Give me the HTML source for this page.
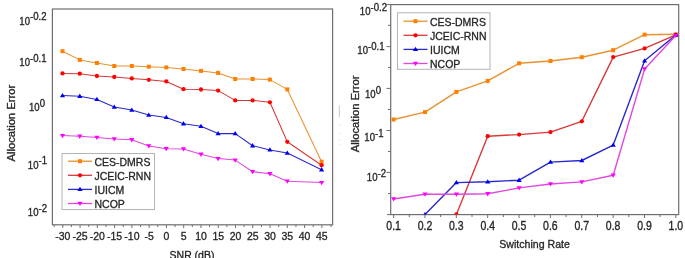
<!DOCTYPE html>
<html><head><meta charset="utf-8"><style>
html,body{margin:0;padding:0;background:#fff;}
body{width:685px;height:258px;overflow:hidden;}
svg{display:block;will-change:transform;}
text{font-family:"Liberation Sans",sans-serif;fill:#262626;stroke:#262626;stroke-width:0.3px;}
.t{font-size:10.5px;}
.lg{font-size:10.5px;}
.xt{font-size:10.6px;}
.yl{font-size:9.6px;}
.sp{font-size:9.6px;}
.al{font-size:10.5px;}
</style></head><body>
<svg width="685" height="258" viewBox="0 0 685 258">
<rect x="52.4" y="9" width="280.2" height="215.8" fill="none" stroke="#6e6e6e" stroke-width="1.2"/>
<line x1="62.80" y1="225" x2="62.80" y2="228" stroke="#6e6e6e" stroke-width="1"/>
<line x1="54.16" y1="225" x2="54.16" y2="227" stroke="#6e6e6e" stroke-width="1"/>
<line x1="80.07" y1="225" x2="80.07" y2="228" stroke="#6e6e6e" stroke-width="1"/>
<line x1="71.43" y1="225" x2="71.43" y2="227" stroke="#6e6e6e" stroke-width="1"/>
<line x1="97.34" y1="225" x2="97.34" y2="228" stroke="#6e6e6e" stroke-width="1"/>
<line x1="88.70" y1="225" x2="88.70" y2="227" stroke="#6e6e6e" stroke-width="1"/>
<line x1="114.61" y1="225" x2="114.61" y2="228" stroke="#6e6e6e" stroke-width="1"/>
<line x1="105.97" y1="225" x2="105.97" y2="227" stroke="#6e6e6e" stroke-width="1"/>
<line x1="131.88" y1="225" x2="131.88" y2="228" stroke="#6e6e6e" stroke-width="1"/>
<line x1="123.24" y1="225" x2="123.24" y2="227" stroke="#6e6e6e" stroke-width="1"/>
<line x1="149.15" y1="225" x2="149.15" y2="228" stroke="#6e6e6e" stroke-width="1"/>
<line x1="140.51" y1="225" x2="140.51" y2="227" stroke="#6e6e6e" stroke-width="1"/>
<line x1="166.42" y1="225" x2="166.42" y2="228" stroke="#6e6e6e" stroke-width="1"/>
<line x1="157.79" y1="225" x2="157.79" y2="227" stroke="#6e6e6e" stroke-width="1"/>
<line x1="183.69" y1="225" x2="183.69" y2="228" stroke="#6e6e6e" stroke-width="1"/>
<line x1="175.06" y1="225" x2="175.06" y2="227" stroke="#6e6e6e" stroke-width="1"/>
<line x1="200.96" y1="225" x2="200.96" y2="228" stroke="#6e6e6e" stroke-width="1"/>
<line x1="192.32" y1="225" x2="192.32" y2="227" stroke="#6e6e6e" stroke-width="1"/>
<line x1="218.23" y1="225" x2="218.23" y2="228" stroke="#6e6e6e" stroke-width="1"/>
<line x1="209.60" y1="225" x2="209.60" y2="227" stroke="#6e6e6e" stroke-width="1"/>
<line x1="235.50" y1="225" x2="235.50" y2="228" stroke="#6e6e6e" stroke-width="1"/>
<line x1="226.87" y1="225" x2="226.87" y2="227" stroke="#6e6e6e" stroke-width="1"/>
<line x1="252.77" y1="225" x2="252.77" y2="228" stroke="#6e6e6e" stroke-width="1"/>
<line x1="244.13" y1="225" x2="244.13" y2="227" stroke="#6e6e6e" stroke-width="1"/>
<line x1="270.04" y1="225" x2="270.04" y2="228" stroke="#6e6e6e" stroke-width="1"/>
<line x1="261.41" y1="225" x2="261.41" y2="227" stroke="#6e6e6e" stroke-width="1"/>
<line x1="287.31" y1="225" x2="287.31" y2="228" stroke="#6e6e6e" stroke-width="1"/>
<line x1="278.68" y1="225" x2="278.68" y2="227" stroke="#6e6e6e" stroke-width="1"/>
<line x1="304.58" y1="225" x2="304.58" y2="228" stroke="#6e6e6e" stroke-width="1"/>
<line x1="295.94" y1="225" x2="295.94" y2="227" stroke="#6e6e6e" stroke-width="1"/>
<line x1="321.85" y1="225" x2="321.85" y2="228" stroke="#6e6e6e" stroke-width="1"/>
<line x1="313.22" y1="225" x2="313.22" y2="227" stroke="#6e6e6e" stroke-width="1"/>
<line x1="331" y1="225" x2="331" y2="227" stroke="#6e6e6e" stroke-width="1"/>
<text transform="translate(62.80,240.00) scale(1,1.06)" class="t" text-anchor="middle">-30</text>
<text transform="translate(80.07,240.00) scale(1,1.06)" class="t" text-anchor="middle">-25</text>
<text transform="translate(97.34,240.00) scale(1,1.06)" class="t" text-anchor="middle">-20</text>
<text transform="translate(114.61,240.00) scale(1,1.06)" class="t" text-anchor="middle">-15</text>
<text transform="translate(131.88,240.00) scale(1,1.06)" class="t" text-anchor="middle">-10</text>
<text transform="translate(149.15,240.00) scale(1,1.06)" class="t" text-anchor="middle">-5</text>
<text transform="translate(166.42,240.00) scale(1,1.06)" class="t" text-anchor="middle">0</text>
<text transform="translate(183.69,240.00) scale(1,1.06)" class="t" text-anchor="middle">5</text>
<text transform="translate(200.96,240.00) scale(1,1.06)" class="t" text-anchor="middle">10</text>
<text transform="translate(218.23,240.00) scale(1,1.06)" class="t" text-anchor="middle">15</text>
<text transform="translate(235.50,240.00) scale(1,1.06)" class="t" text-anchor="middle">20</text>
<text transform="translate(252.77,240.00) scale(1,1.06)" class="t" text-anchor="middle">25</text>
<text transform="translate(270.04,240.00) scale(1,1.06)" class="t" text-anchor="middle">30</text>
<text transform="translate(287.31,240.00) scale(1,1.06)" class="t" text-anchor="middle">35</text>
<text transform="translate(304.58,240.00) scale(1,1.06)" class="t" text-anchor="middle">40</text>
<text transform="translate(321.85,240.00) scale(1,1.06)" class="t" text-anchor="middle">45</text>
<text transform="translate(46.50,24.50) scale(1,1.06)" class="yl" text-anchor="end">10<tspan class="sp" dy="-4">-0.2</tspan></text>
<text transform="translate(46.50,66.00) scale(1,1.06)" class="yl" text-anchor="end">10<tspan class="sp" dy="-4">-0.1</tspan></text>
<text transform="translate(45.00,111.00) scale(1,1.06)" class="yl" text-anchor="end">10<tspan class="sp" dy="-4">0</tspan></text>
<text transform="translate(47.00,168.50) scale(1,1.06)" class="yl" text-anchor="end">10<tspan class="sp" dy="-4">-1</tspan></text>
<text transform="translate(47.00,216.00) scale(1,1.06)" class="yl" text-anchor="end">10<tspan class="sp" dy="-4">-2</tspan></text>
<text class="al" transform="translate(14.7,123.2) rotate(-90) scale(1.07,1)" text-anchor="middle">Allocation Error</text>
<text transform="translate(192.00,258.50) scale(1,1.06)" class="t" text-anchor="middle">SNR (dB)</text>
<g>
<polyline points="62.50,51.20 79.80,59.90 96.90,63.00 114.30,66.00 131.80,66.00 148.80,66.70 166.30,67.40 183.50,69.00 201.00,70.90 218.10,72.90 235.20,79.00 252.60,79.00 269.90,79.60 287.30,89.40 321.60,161.70" fill="none" stroke="#EA9230" stroke-width="1.05" stroke-linejoin="round"/><rect x="60.50" y="49.20" width="4.0" height="4.0" fill="#FF8000"/><rect x="77.80" y="57.90" width="4.0" height="4.0" fill="#FF8000"/><rect x="94.90" y="61.00" width="4.0" height="4.0" fill="#FF8000"/><rect x="112.30" y="64.00" width="4.0" height="4.0" fill="#FF8000"/><rect x="129.80" y="64.00" width="4.0" height="4.0" fill="#FF8000"/><rect x="146.80" y="64.70" width="4.0" height="4.0" fill="#FF8000"/><rect x="164.30" y="65.40" width="4.0" height="4.0" fill="#FF8000"/><rect x="181.50" y="67.00" width="4.0" height="4.0" fill="#FF8000"/><rect x="199.00" y="68.90" width="4.0" height="4.0" fill="#FF8000"/><rect x="216.10" y="70.90" width="4.0" height="4.0" fill="#FF8000"/><rect x="233.20" y="77.00" width="4.0" height="4.0" fill="#FF8000"/><rect x="250.60" y="77.00" width="4.0" height="4.0" fill="#FF8000"/><rect x="267.90" y="77.60" width="4.0" height="4.0" fill="#FF8000"/><rect x="285.30" y="87.40" width="4.0" height="4.0" fill="#FF8000"/><rect x="319.60" y="159.70" width="4.0" height="4.0" fill="#FF8000"/>
<polyline points="62.50,73.40 79.80,73.70 96.90,76.00 114.30,77.00 131.80,78.40 148.80,79.80 166.30,81.40 183.50,89.20 201.00,89.50 218.10,90.60 235.20,100.40 252.60,100.40 269.90,102.30 287.30,141.80 321.60,165.20" fill="none" stroke="#D83838" stroke-width="1.05" stroke-linejoin="round"/><circle cx="62.50" cy="73.40" r="2.15" fill="#FF0000"/><circle cx="79.80" cy="73.70" r="2.15" fill="#FF0000"/><circle cx="96.90" cy="76.00" r="2.15" fill="#FF0000"/><circle cx="114.30" cy="77.00" r="2.15" fill="#FF0000"/><circle cx="131.80" cy="78.40" r="2.15" fill="#FF0000"/><circle cx="148.80" cy="79.80" r="2.15" fill="#FF0000"/><circle cx="166.30" cy="81.40" r="2.15" fill="#FF0000"/><circle cx="183.50" cy="89.20" r="2.15" fill="#FF0000"/><circle cx="201.00" cy="89.50" r="2.15" fill="#FF0000"/><circle cx="218.10" cy="90.60" r="2.15" fill="#FF0000"/><circle cx="235.20" cy="100.40" r="2.15" fill="#FF0000"/><circle cx="252.60" cy="100.40" r="2.15" fill="#FF0000"/><circle cx="269.90" cy="102.30" r="2.15" fill="#FF0000"/><circle cx="287.30" cy="141.80" r="2.15" fill="#FF0000"/><circle cx="321.60" cy="165.20" r="2.15" fill="#FF0000"/>
<polyline points="62.50,95.60 79.80,96.20 96.90,99.40 114.30,107.10 131.80,110.10 148.80,115.00 166.30,117.40 183.50,123.70 201.00,126.30 218.10,133.60 235.20,133.60 252.60,145.70 269.90,149.90 287.30,153.00 321.60,169.70" fill="none" stroke="#2A2ACC" stroke-width="1.05" stroke-linejoin="round"/><path d="M62.50 93.00L65.10 97.30L59.90 97.30Z" fill="#0000F0"/><path d="M79.80 93.60L82.40 97.90L77.20 97.90Z" fill="#0000F0"/><path d="M96.90 96.80L99.50 101.10L94.30 101.10Z" fill="#0000F0"/><path d="M114.30 104.50L116.90 108.80L111.70 108.80Z" fill="#0000F0"/><path d="M131.80 107.50L134.40 111.80L129.20 111.80Z" fill="#0000F0"/><path d="M148.80 112.40L151.40 116.70L146.20 116.70Z" fill="#0000F0"/><path d="M166.30 114.80L168.90 119.10L163.70 119.10Z" fill="#0000F0"/><path d="M183.50 121.10L186.10 125.40L180.90 125.40Z" fill="#0000F0"/><path d="M201.00 123.70L203.60 128.00L198.40 128.00Z" fill="#0000F0"/><path d="M218.10 131.00L220.70 135.30L215.50 135.30Z" fill="#0000F0"/><path d="M235.20 131.00L237.80 135.30L232.60 135.30Z" fill="#0000F0"/><path d="M252.60 143.10L255.20 147.40L250.00 147.40Z" fill="#0000F0"/><path d="M269.90 147.30L272.50 151.60L267.30 151.60Z" fill="#0000F0"/><path d="M287.30 150.40L289.90 154.70L284.70 154.70Z" fill="#0000F0"/><path d="M321.60 167.10L324.20 171.40L319.00 171.40Z" fill="#0000F0"/>
<polyline points="62.50,135.60 79.80,136.30 96.90,137.40 114.30,139.00 131.80,139.80 148.80,146.00 166.30,148.70 183.50,149.00 201.00,154.30 218.10,158.60 235.20,160.10 252.60,171.70 269.90,173.80 287.30,181.20 321.60,182.60" fill="none" stroke="#E048E0" stroke-width="1.05" stroke-linejoin="round"/><path d="M62.50 138.20L65.10 133.90L59.90 133.90Z" fill="#FF00FF"/><path d="M79.80 138.90L82.40 134.60L77.20 134.60Z" fill="#FF00FF"/><path d="M96.90 140.00L99.50 135.70L94.30 135.70Z" fill="#FF00FF"/><path d="M114.30 141.60L116.90 137.30L111.70 137.30Z" fill="#FF00FF"/><path d="M131.80 142.40L134.40 138.10L129.20 138.10Z" fill="#FF00FF"/><path d="M148.80 148.60L151.40 144.30L146.20 144.30Z" fill="#FF00FF"/><path d="M166.30 151.30L168.90 147.00L163.70 147.00Z" fill="#FF00FF"/><path d="M183.50 151.60L186.10 147.30L180.90 147.30Z" fill="#FF00FF"/><path d="M201.00 156.90L203.60 152.60L198.40 152.60Z" fill="#FF00FF"/><path d="M218.10 161.20L220.70 156.90L215.50 156.90Z" fill="#FF00FF"/><path d="M235.20 162.70L237.80 158.40L232.60 158.40Z" fill="#FF00FF"/><path d="M252.60 174.30L255.20 170.00L250.00 170.00Z" fill="#FF00FF"/><path d="M269.90 176.40L272.50 172.10L267.30 172.10Z" fill="#FF00FF"/><path d="M287.30 183.80L289.90 179.50L284.70 179.50Z" fill="#FF00FF"/><path d="M321.60 185.20L324.20 180.90L319.00 180.90Z" fill="#FF00FF"/>
</g>
<rect x="62" y="153.5" width="92.5" height="56" fill="#fff" stroke="#b4b4b4" stroke-width="1"/><line x1="68" y1="161.2" x2="92" y2="161.2" stroke="#EA9230" stroke-width="1.3"/><rect x="78.00" y="159.20" width="4.0" height="4.0" fill="#FF8000"/><text transform="translate(94.50,165.70) scale(1,1.06)" class="lg">CES-DMRS</text><line x1="68" y1="175.29999999999998" x2="92" y2="175.29999999999998" stroke="#D83838" stroke-width="1.3"/><circle cx="80.00" cy="175.30" r="2.15" fill="#FF0000"/><text transform="translate(94.50,179.80) scale(1,1.06)" class="lg">JCEIC-RNN</text><line x1="68" y1="189.39999999999998" x2="92" y2="189.39999999999998" stroke="#2A2ACC" stroke-width="1.3"/><path d="M80.00 186.80L82.60 191.10L77.40 191.10Z" fill="#0000F0"/><text transform="translate(94.50,193.90) scale(1,1.06)" class="lg">IUICM</text><line x1="68" y1="203.5" x2="92" y2="203.5" stroke="#E048E0" stroke-width="1.3"/><path d="M80.00 206.10L82.60 201.80L77.40 201.80Z" fill="#FF00FF"/><text transform="translate(94.50,208.00) scale(1,1.06)" class="lg">NCOP</text>
<line x1="339.4" y1="105.5" x2="339.4" y2="117.2" stroke="#c4c4c4" stroke-width="0.9"/>
<rect x="338.9" y="124.7" width="1" height="1" fill="#d4d4d4"/>
<rect x="338.9" y="133.2" width="1" height="1" fill="#d4d4d4"/>
<rect x="338.9" y="139.3" width="1" height="1" fill="#d4d4d4"/>
<rect x="338.9" y="143.7" width="1" height="1" fill="#d4d4d4"/>
<defs><clipPath id="cr"><rect x="390" y="4" width="289" height="210.6"/></clipPath></defs>
<rect x="390.7" y="4.6" width="288" height="210" fill="none" stroke="#6e6e6e" stroke-width="1.2"/>
<line x1="393.60" y1="214.6" x2="393.60" y2="218" stroke="#6e6e6e" stroke-width="1"/>
<line x1="409.28" y1="214.6" x2="409.28" y2="217" stroke="#6e6e6e" stroke-width="1"/>
<line x1="424.96" y1="214.6" x2="424.96" y2="218" stroke="#6e6e6e" stroke-width="1"/>
<line x1="440.64" y1="214.6" x2="440.64" y2="217" stroke="#6e6e6e" stroke-width="1"/>
<line x1="456.32" y1="214.6" x2="456.32" y2="218" stroke="#6e6e6e" stroke-width="1"/>
<line x1="472.00" y1="214.6" x2="472.00" y2="217" stroke="#6e6e6e" stroke-width="1"/>
<line x1="487.68" y1="214.6" x2="487.68" y2="218" stroke="#6e6e6e" stroke-width="1"/>
<line x1="503.36" y1="214.6" x2="503.36" y2="217" stroke="#6e6e6e" stroke-width="1"/>
<line x1="519.04" y1="214.6" x2="519.04" y2="218" stroke="#6e6e6e" stroke-width="1"/>
<line x1="534.72" y1="214.6" x2="534.72" y2="217" stroke="#6e6e6e" stroke-width="1"/>
<line x1="550.40" y1="214.6" x2="550.40" y2="218" stroke="#6e6e6e" stroke-width="1"/>
<line x1="566.08" y1="214.6" x2="566.08" y2="217" stroke="#6e6e6e" stroke-width="1"/>
<line x1="581.76" y1="214.6" x2="581.76" y2="218" stroke="#6e6e6e" stroke-width="1"/>
<line x1="597.44" y1="214.6" x2="597.44" y2="217" stroke="#6e6e6e" stroke-width="1"/>
<line x1="613.12" y1="214.6" x2="613.12" y2="218" stroke="#6e6e6e" stroke-width="1"/>
<line x1="628.80" y1="214.6" x2="628.80" y2="217" stroke="#6e6e6e" stroke-width="1"/>
<line x1="644.48" y1="214.6" x2="644.48" y2="218" stroke="#6e6e6e" stroke-width="1"/>
<line x1="660.16" y1="214.6" x2="660.16" y2="217" stroke="#6e6e6e" stroke-width="1"/>
<line x1="675.84" y1="214.6" x2="675.84" y2="218" stroke="#6e6e6e" stroke-width="1"/>
<line x1="387" y1="214.6" x2="390.7" y2="214.6" stroke="#6e6e6e" stroke-width="1"/>
<line x1="386.5" y1="4.6" x2="390.7" y2="4.6" stroke="#6e6e6e" stroke-width="1"/>
<line x1="386.5" y1="46.6" x2="390.7" y2="46.6" stroke="#6e6e6e" stroke-width="1"/>
<line x1="386.5" y1="88.4" x2="390.7" y2="88.4" stroke="#6e6e6e" stroke-width="1"/>
<line x1="386.5" y1="130.5" x2="390.7" y2="130.5" stroke="#6e6e6e" stroke-width="1"/>
<line x1="386.5" y1="172.4" x2="390.7" y2="172.4" stroke="#6e6e6e" stroke-width="1"/>
<line x1="388" y1="25.3" x2="390.7" y2="25.3" stroke="#6e6e6e" stroke-width="1"/>
<line x1="388" y1="67.5" x2="390.7" y2="67.5" stroke="#6e6e6e" stroke-width="1"/>
<line x1="388" y1="109.5" x2="390.7" y2="109.5" stroke="#6e6e6e" stroke-width="1"/>
<line x1="388" y1="151.5" x2="390.7" y2="151.5" stroke="#6e6e6e" stroke-width="1"/>
<line x1="388" y1="193.5" x2="390.7" y2="193.5" stroke="#6e6e6e" stroke-width="1"/>
<text transform="translate(393.60,229.90) scale(1,1.13)" class="t" text-anchor="middle">0.1</text>
<text transform="translate(424.96,229.90) scale(1,1.13)" class="t" text-anchor="middle">0.2</text>
<text transform="translate(456.32,229.90) scale(1,1.13)" class="t" text-anchor="middle">0.3</text>
<text transform="translate(487.68,229.90) scale(1,1.13)" class="t" text-anchor="middle">0.4</text>
<text transform="translate(519.04,229.90) scale(1,1.13)" class="t" text-anchor="middle">0.5</text>
<text transform="translate(550.40,229.90) scale(1,1.13)" class="t" text-anchor="middle">0.6</text>
<text transform="translate(581.76,229.90) scale(1,1.13)" class="t" text-anchor="middle">0.7</text>
<text transform="translate(613.12,229.90) scale(1,1.13)" class="t" text-anchor="middle">0.8</text>
<text transform="translate(644.48,229.90) scale(1,1.13)" class="t" text-anchor="middle">0.9</text>
<text transform="translate(675.84,229.90) scale(1,1.13)" class="t" text-anchor="middle">1.0</text>
<text transform="translate(387.00,15.00) scale(1,1.06)" class="yl" text-anchor="end">10<tspan class="sp" dy="-4">-0.2</tspan></text>
<text transform="translate(384.50,54.00) scale(1,1.06)" class="yl" text-anchor="end">10<tspan class="sp" dy="-4">-0.1</tspan></text>
<text transform="translate(381.00,98.00) scale(1,1.06)" class="yl" text-anchor="end">10<tspan class="sp" dy="-4">0</tspan></text>
<text transform="translate(383.50,141.00) scale(1,1.06)" class="yl" text-anchor="end">10<tspan class="sp" dy="-4">-1</tspan></text>
<text transform="translate(386.00,181.00) scale(1,1.06)" class="yl" text-anchor="end">10<tspan class="sp" dy="-4">-2</tspan></text>
<text class="al" transform="translate(359,113.9) rotate(-90) scale(1.07,1)" text-anchor="middle">Allocation Error</text>
<text transform="translate(534.60,248.20) scale(1,1.06)" class="xt" text-anchor="middle">Switching Rate</text>
<g clip-path="url(#cr)">
<polyline points="393.60,119.50 425.00,112.10 456.40,91.90 487.70,80.90 519.10,63.30 550.50,61.00 581.80,57.20 613.20,50.20 644.60,34.70 675.80,34.30" fill="none" stroke="#EA9230" stroke-width="1.4" stroke-linejoin="round"/><rect x="391.60" y="117.50" width="4.0" height="4.0" fill="#FF8000"/><rect x="423.00" y="110.10" width="4.0" height="4.0" fill="#FF8000"/><rect x="454.40" y="89.90" width="4.0" height="4.0" fill="#FF8000"/><rect x="485.70" y="78.90" width="4.0" height="4.0" fill="#FF8000"/><rect x="517.10" y="61.30" width="4.0" height="4.0" fill="#FF8000"/><rect x="548.50" y="59.00" width="4.0" height="4.0" fill="#FF8000"/><rect x="579.80" y="55.20" width="4.0" height="4.0" fill="#FF8000"/><rect x="611.20" y="48.20" width="4.0" height="4.0" fill="#FF8000"/><rect x="642.60" y="32.70" width="4.0" height="4.0" fill="#FF8000"/><rect x="673.80" y="32.30" width="4.0" height="4.0" fill="#FF8000"/>
<polyline points="456.40,214.50 487.70,136.20 519.10,134.60 550.50,132.10 581.80,121.30 613.20,57.10 644.60,48.40 675.80,34.80" fill="none" stroke="#D83838" stroke-width="1.4" stroke-linejoin="round"/><circle cx="456.40" cy="214.50" r="2.15" fill="#FF0000"/><circle cx="487.70" cy="136.20" r="2.15" fill="#FF0000"/><circle cx="519.10" cy="134.60" r="2.15" fill="#FF0000"/><circle cx="550.50" cy="132.10" r="2.15" fill="#FF0000"/><circle cx="581.80" cy="121.30" r="2.15" fill="#FF0000"/><circle cx="613.20" cy="57.10" r="2.15" fill="#FF0000"/><circle cx="644.60" cy="48.40" r="2.15" fill="#FF0000"/><circle cx="675.80" cy="34.80" r="2.15" fill="#FF0000"/>
<polyline points="425.00,214.50 456.40,182.60 487.70,181.80 519.10,180.20 550.50,162.10 581.80,160.50 613.20,145.10 644.60,60.80 675.80,35.00" fill="none" stroke="#2A2ACC" stroke-width="1.4" stroke-linejoin="round"/><path d="M425.00 211.90L427.60 216.20L422.40 216.20Z" fill="#0000F0"/><path d="M456.40 180.00L459.00 184.30L453.80 184.30Z" fill="#0000F0"/><path d="M487.70 179.20L490.30 183.50L485.10 183.50Z" fill="#0000F0"/><path d="M519.10 177.60L521.70 181.90L516.50 181.90Z" fill="#0000F0"/><path d="M550.50 159.50L553.10 163.80L547.90 163.80Z" fill="#0000F0"/><path d="M581.80 157.90L584.40 162.20L579.20 162.20Z" fill="#0000F0"/><path d="M613.20 142.50L615.80 146.80L610.60 146.80Z" fill="#0000F0"/><path d="M644.60 58.20L647.20 62.50L642.00 62.50Z" fill="#0000F0"/><path d="M675.80 32.40L678.40 36.70L673.20 36.70Z" fill="#0000F0"/>
<polyline points="393.60,199.00 425.00,194.20 456.40,194.20 487.70,193.80 519.10,187.90 550.50,184.00 581.80,181.90 613.20,175.20 644.60,69.00 675.80,35.50" fill="none" stroke="#E048E0" stroke-width="1.4" stroke-linejoin="round"/><path d="M393.60 201.60L396.20 197.30L391.00 197.30Z" fill="#FF00FF"/><path d="M425.00 196.80L427.60 192.50L422.40 192.50Z" fill="#FF00FF"/><path d="M456.40 196.80L459.00 192.50L453.80 192.50Z" fill="#FF00FF"/><path d="M487.70 196.40L490.30 192.10L485.10 192.10Z" fill="#FF00FF"/><path d="M519.10 190.50L521.70 186.20L516.50 186.20Z" fill="#FF00FF"/><path d="M550.50 186.60L553.10 182.30L547.90 182.30Z" fill="#FF00FF"/><path d="M581.80 184.50L584.40 180.20L579.20 180.20Z" fill="#FF00FF"/><path d="M613.20 177.80L615.80 173.50L610.60 173.50Z" fill="#FF00FF"/><path d="M644.60 71.60L647.20 67.30L642.00 67.30Z" fill="#FF00FF"/><path d="M675.80 38.10L678.40 33.80L673.20 33.80Z" fill="#FF00FF"/>
</g>
<rect x="397.5" y="12.8" width="92.5" height="56.5" fill="#fff" stroke="#b4b4b4" stroke-width="1"/><line x1="403.5" y1="21.200000000000003" x2="427.5" y2="21.200000000000003" stroke="#EA9230" stroke-width="1.3"/><rect x="413.50" y="19.20" width="4.0" height="4.0" fill="#FF8000"/><text transform="translate(430.00,25.70) scale(1,1.06)" class="lg">CES-DMRS</text><line x1="403.5" y1="35.300000000000004" x2="427.5" y2="35.300000000000004" stroke="#D83838" stroke-width="1.3"/><circle cx="415.50" cy="35.30" r="2.15" fill="#FF0000"/><text transform="translate(430.00,39.80) scale(1,1.06)" class="lg">JCEIC-RNN</text><line x1="403.5" y1="49.400000000000006" x2="427.5" y2="49.400000000000006" stroke="#2A2ACC" stroke-width="1.3"/><path d="M415.50 46.80L418.10 51.10L412.90 51.10Z" fill="#0000F0"/><text transform="translate(430.00,53.90) scale(1,1.06)" class="lg">IUICM</text><line x1="403.5" y1="63.5" x2="427.5" y2="63.5" stroke="#E048E0" stroke-width="1.3"/><path d="M415.50 66.10L418.10 61.80L412.90 61.80Z" fill="#FF00FF"/><text transform="translate(430.00,68.00) scale(1,1.06)" class="lg">NCOP</text>
</svg>
</body></html>
